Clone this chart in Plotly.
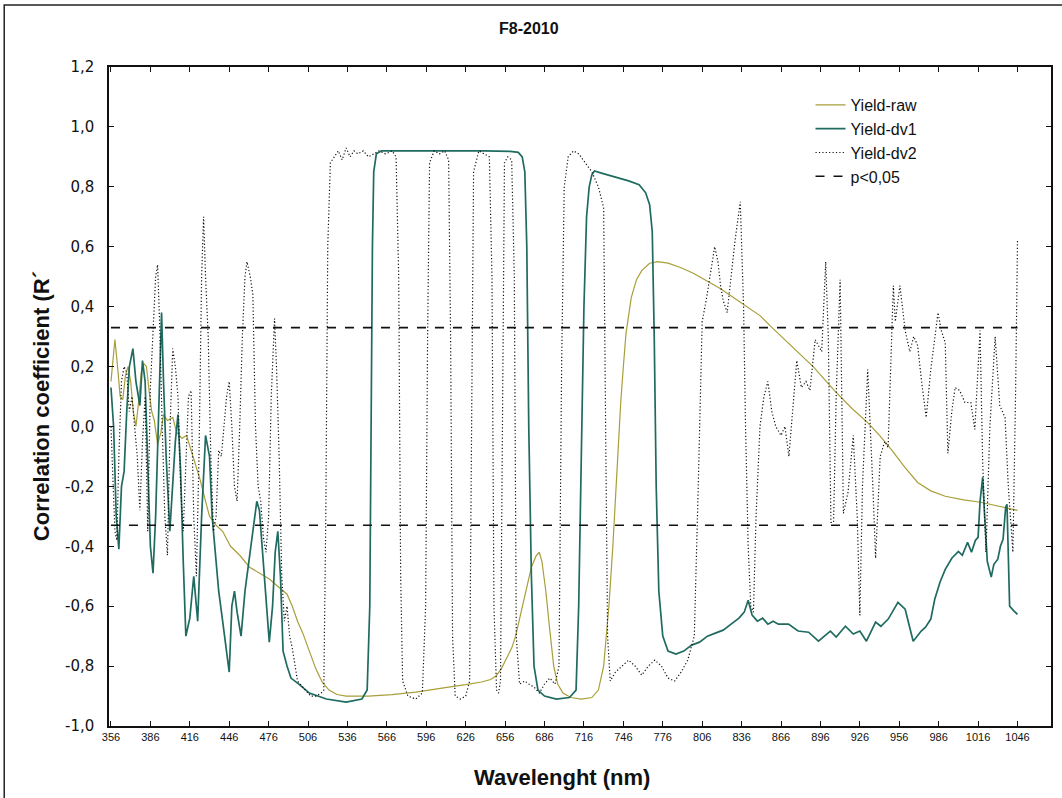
import plotly.graph_objects as go

# ---------------- data ----------------
x_ticks = [356, 386, 416, 446, 476, 506, 536, 566, 596, 626, 656, 686, 716, 746,
           776, 806, 836, 866, 896, 926, 956, 986, 1016, 1046]
x_tick_labels = ["356", "386", "416", "446", "476", "506", "536", "566", "596", "626",
                 "656", "686", "716", "746", "776", "806", "836", "866", "896", "926",
                 "956", "986", "1016", "1046"]
y_ticks = [-1.0, -0.8, -0.6, -0.4, -0.2, 0.0, 0.2, 0.4, 0.6, 0.8, 1.0, 1.2]
y_tick_labels = ["-1,0", "-0,8", "-0,6", "-0,4", "-0,2", "0,0", "0,2", "0,4", "0,6",
                 "0,8", "1,0", "1,2"]

wl_raw = [356, 357.5, 359, 361, 363, 365, 367, 369, 371, 373, 375, 377, 379, 381, 383, 385,
          387, 389, 391.5, 394, 396, 399, 403, 406, 410, 413.5, 417, 421, 424, 428, 431, 436,
          441, 447, 454, 461.5, 469, 476.8, 482, 487, 490, 494, 498, 502, 507, 512, 517, 522,
          528, 535, 552, 570, 588, 600, 613, 626, 638, 645, 649, 653, 657, 661, 664, 668, 672,
          676, 679.5, 682, 684, 687, 690, 693, 696, 700, 706, 714, 722, 727, 731, 735, 738,
          741, 744, 746, 748, 752, 756, 760, 766, 772, 780, 790, 800, 810, 820, 830, 840, 850,
          858, 864, 872, 880, 891, 906, 920, 932, 941, 950, 960, 970, 980, 991, 1005, 1018,
          1030, 1046]
r_raw = [0.15, 0.22, 0.29, 0.2, 0.1, 0.09, 0.17, 0.2, 0.15, 0.05, 0.0, 0.08, 0.18, 0.21, 0.2,
         0.12, 0.05, 0.02, -0.06, -0.02, 0.04, 0.02, 0.03, -0.02, -0.04, -0.03, -0.08, -0.14,
         -0.18, -0.25, -0.3, -0.33, -0.35, -0.4, -0.43, -0.47, -0.49, -0.51, -0.53, -0.55,
         -0.56, -0.6, -0.65, -0.69, -0.75, -0.81, -0.855, -0.88, -0.895, -0.9, -0.9, -0.895,
         -0.887, -0.88, -0.87, -0.862, -0.853, -0.845, -0.833, -0.81, -0.777, -0.74, -0.7,
         -0.62, -0.543, -0.47, -0.433, -0.42, -0.45, -0.55, -0.68, -0.8, -0.86, -0.89, -0.905,
         -0.91, -0.905, -0.88, -0.8, -0.6, -0.4, -0.15, 0.08, 0.2, 0.31, 0.43, 0.49, 0.52,
         0.545, 0.55, 0.545, 0.53, 0.51, 0.485, 0.46, 0.43, 0.4, 0.37, 0.335, 0.31, 0.275,
         0.24, 0.197, 0.123, 0.06, 0.013, -0.03, -0.077, -0.135, -0.187, -0.215, -0.233,
         -0.245, -0.253, -0.265, -0.28]

wl_dv1 = [356, 358, 360, 362, 364, 366, 368, 370, 372.7, 375, 378, 380, 382, 384, 386, 388,
          390, 392, 394.5, 396, 398, 400.8, 403, 405, 407, 409, 411, 413, 416, 419, 422, 425,
          428, 431, 433, 435, 438, 441, 444, 446, 448, 450, 452, 455, 458, 461, 464, 467, 469,
          471, 474, 476.5, 479, 481, 483, 485, 487, 490, 493, 499, 507, 520, 535, 547, 551,
          553, 554, 555, 556, 558, 562, 580, 600, 620, 640, 660, 666, 669, 671, 672.5, 674,
          676, 678, 681, 686, 695, 705, 710, 712, 714, 716, 718, 720, 722, 724, 730, 740, 750,
          758, 763, 766, 768, 769.5, 771, 773, 776, 780, 786, 792, 798, 804, 810, 816, 822,
          828, 834, 838, 841, 844, 848, 852, 856, 860, 864, 871.7, 879, 887, 894.5, 899,
          903.6, 908, 915, 921, 926, 931, 938, 942, 947.6, 955, 960.5, 966.6, 972.7, 976, 980,
          983, 987, 991, 996, 1001, 1004, 1008, 1011, 1014, 1016, 1017.5, 1019.5, 1021, 1023,
          1026, 1028, 1031, 1033, 1035, 1037, 1038, 1039, 1040, 1043, 1046]
r_dv1 = [0.13, 0.0, -0.3, -0.41, -0.2, -0.15, 0.05, 0.2, 0.26, 0.15, 0.07, 0.22, 0.15, -0.1,
         -0.4, -0.49, -0.3, 0.0, 0.38, 0.15, -0.1, -0.35, -0.2, -0.05, 0.04, -0.15, -0.45, -0.7,
         -0.64, -0.5, -0.65, -0.3, -0.03, -0.1, -0.3, -0.4, -0.55, -0.65, -0.75, -0.82, -0.6,
         -0.55, -0.62, -0.7, -0.55, -0.45, -0.35, -0.25, -0.28, -0.4, -0.6, -0.72, -0.6, -0.42,
         -0.35, -0.5, -0.75, -0.8, -0.84, -0.86, -0.89, -0.91, -0.92, -0.91, -0.88, -0.6, 0.0,
         0.6, 0.85, 0.91, 0.92, 0.92, 0.922, 0.92, 0.92, 0.918, 0.915, 0.9, 0.85, 0.6, 0.0,
         -0.5, -0.8, -0.88, -0.9, -0.91, -0.905, -0.88, -0.6, -0.1, 0.4, 0.7, 0.8, 0.84, 0.853,
         0.845, 0.833, 0.82, 0.807, 0.78, 0.74, 0.65, 0.3, -0.2, -0.55, -0.7, -0.75, -0.76,
         -0.75, -0.73, -0.72, -0.7, -0.69, -0.68, -0.66, -0.64, -0.62, -0.58, -0.63, -0.65,
         -0.64, -0.66, -0.65, -0.66, -0.66, -0.683, -0.687, -0.717, -0.7, -0.683, -0.703,
         -0.667, -0.693, -0.683, -0.717, -0.653, -0.667, -0.643, -0.587, -0.61, -0.717,
         -0.683, -0.67, -0.643, -0.577, -0.52, -0.477, -0.44, -0.417, -0.43, -0.387, -0.42,
         -0.38, -0.37, -0.25, -0.17, -0.3, -0.45, -0.503, -0.46, -0.443, -0.4, -0.377, -0.27,
         -0.26, -0.4, -0.6, -0.615, -0.627]

wl_dv2 = [356, 357.5, 359, 360.5, 362, 364, 366, 368, 370, 372, 374, 376, 378, 380, 382, 384,
          386, 388, 390, 391.5, 393, 395, 397, 399, 401, 403, 405, 407, 409, 411, 413, 415,
          417, 419, 421, 423, 425, 426.5, 428, 430, 432, 434, 436, 438, 440, 442, 444, 446,
          448, 450, 452, 454, 456, 458, 459.5, 462, 464, 466, 468, 470, 472, 474, 476, 478,
          480.5, 482, 484, 486, 488, 490, 492, 494, 496, 498, 500, 504, 508, 512, 516, 518,
          519.5, 521, 523, 526, 529, 532, 535, 538, 541, 544, 548, 552, 556, 560, 565, 570,
          573, 575, 576.5, 578, 582, 588, 593, 595.5, 597, 598.5, 602, 606, 610, 613, 614.5,
          616, 618, 622, 626, 629, 630.5, 632, 636, 640, 644, 646, 647.5, 649.5, 651, 652.5,
          654, 655.5, 658, 661, 663, 664.5, 667, 671, 674, 678, 682, 686, 690, 694, 697, 699,
          701, 704, 708, 712, 717, 722, 727, 731, 732.5, 734, 736, 740, 745, 750, 755, 760,
          765, 770, 775, 780, 785, 790, 795, 800, 803, 806, 809, 812, 815.5, 818, 820, 822,
          825, 828, 831, 835, 837.5, 839, 841, 843, 845, 847, 850, 853, 856, 859, 862, 866,
          869, 872, 875, 878, 881.5, 885, 888, 892, 897, 900, 902, 904, 906, 908, 911, 913.5,
          917, 921, 924, 926, 928, 932, 936, 938, 941.5, 945, 947.5, 951.5, 953, 956.5, 960.5,
          964, 967, 970, 973, 976.5, 980, 985.5, 988, 991, 993, 996, 998.5, 1002, 1006,
          1010.5, 1013.5, 1017.5, 1019.5, 1022, 1025, 1029, 1032.5, 1036.5, 1039, 1042.5,
          1044.5, 1046]
r_dv2 = [0.0, -0.2, -0.35, -0.38, -0.1, 0.15, 0.2, 0.18, 0.05, 0.1, 0.0, -0.1, -0.28, -0.05,
         0.1, -0.35, 0.13, 0.3, 0.5, 0.54, 0.35, 0.0, -0.3, -0.43, 0.0, 0.26, 0.2, 0.1, -0.2,
         -0.35, -0.1, 0.1, 0.12, -0.3, -0.5, -0.1, 0.5, 0.7, 0.5, 0.3, -0.1, -0.35, -0.3,
         -0.08, -0.1, 0.0, 0.1, 0.15, 0.0, -0.2, -0.25, 0.0, 0.3, 0.5, 0.55, 0.5, 0.44, 0.0,
         -0.2, -0.25, -0.37, -0.42, -0.3, 0.1, 0.36, 0.2, -0.1, -0.5, -0.65, -0.6, -0.7,
         -0.74, -0.8, -0.85, -0.86, -0.88, -0.9, -0.9, -0.89, -0.88, -0.3, 0.6, 0.88, 0.9,
         0.92, 0.89, 0.93, 0.9, 0.92, 0.91, 0.92, 0.9, 0.91, 0.92, 0.91, 0.92, 0.9, 0.5, -0.5,
         -0.85, -0.9, -0.91, -0.89, -0.6, 0.3, 0.88, 0.92, 0.91, 0.92, 0.89, 0.3, -0.7, -0.9,
         -0.91, -0.9, -0.85, 0.0, 0.85, 0.92, 0.91, 0.9, 0.5, -0.6, -0.88, -0.89, -0.85, 0.2,
         0.88, 0.9, 0.89, 0.5, -0.7, -0.86, -0.85, -0.86, -0.87, -0.89, -0.86, -0.84, -0.86,
         -0.8, 0.2, 0.8, 0.9, 0.92, 0.91, 0.88, 0.85, 0.8, 0.73, 0.0, -0.7, -0.85, -0.82,
         -0.8, -0.78, -0.8, -0.83, -0.8, -0.78, -0.8, -0.84, -0.85, -0.82, -0.78, -0.7, -0.2,
         0.35, 0.42, 0.5, 0.6, 0.55, 0.47, 0.42, 0.38, 0.5, 0.62, 0.75, 0.4, 0.0, -0.4, -0.6,
         -0.62, -0.3, 0.0, 0.1, 0.15, 0.05, 0.0, -0.03, 0.0, -0.1, 0.05, 0.22, 0.13, 0.15,
         0.12, 0.29, 0.25, 0.55, 0.3, -0.32, -0.32, 0.1, 0.49, -0.29, -0.22, -0.03, -0.3,
         -0.63, -0.2, 0.19, -0.21, -0.44, -0.1, -0.05, -0.07, 0.47, 0.35, 0.47, 0.32, 0.25,
         0.3, 0.27, 0.15, 0.03, 0.19, 0.38, 0.32, 0.28, -0.09, 0.05, 0.13, 0.12, 0.08, 0.08,
         -0.01, 0.32, -0.12, -0.42, 0.0, 0.3, 0.07, 0.03, -0.2, -0.42, 0.1, 0.62]

p_level = 0.33
p_span = [356, 1046]

# ---------------- figure ----------------
fig = go.Figure()
fig.add_trace(go.Scatter(x=wl_raw, y=r_raw, mode="lines", name="Yield-raw",
                         line=dict(color="#a89f3a", width=1.2)))
fig.add_trace(go.Scatter(x=wl_dv1, y=r_dv1, mode="lines", name="Yield-dv1",
                         line=dict(color="#1f6b60", width=1.7)))
fig.add_trace(go.Scatter(x=wl_dv2, y=r_dv2, mode="lines", name="Yield-dv2",
                         line=dict(color="#111111", width=1.2, dash="1.2px,2.2px")))
fig.add_trace(go.Scatter(x=[p_span[0], p_span[1], None, p_span[0], p_span[1]],
                         y=[p_level, p_level, None, -p_level, -p_level],
                         mode="lines", name="p<0,05",
                         line=dict(color="#111111", width=1.6, dash="dash")))

W, H = 1062, 798
L, R, T, B = 109, 9, 67, 72
pw, ph = W - L - R, H - T - B

def px(xp):
    return (xp - L) / pw

def py(yp):
    return (H - B - yp) / ph

fig.update_layout(
    width=W, height=H,
    margin=dict(l=L, r=R, t=T, b=B),
    paper_bgcolor="white", plot_bgcolor="white",
    font=dict(family="Liberation Sans, Arial, sans-serif", color="#111111"),
    showlegend=True,
    legend=dict(x=px(812), y=py(88), xanchor="left", yanchor="top",
                bgcolor="rgba(0,0,0,0)", font=dict(size=16, family="Liberation Sans, Arial"),
                tracegroupgap=0, itemwidth=30),
    xaxis=dict(range=[354.5, 1071.5], tickmode="array", tickvals=x_ticks,
               ticktext=x_tick_labels, ticks="inside", ticklen=5, tickwidth=1.2,
               tickcolor="#111111", showline=True, linecolor="#111111", linewidth=1.5,
               mirror="ticks", showgrid=False, zeroline=False,
               tickfont=dict(size=11, family="Liberation Sans Narrow, Arial Narrow, Liberation Sans")),
    yaxis=dict(range=[-1.0, 1.2], tickmode="array", tickvals=y_ticks,
               ticktext=y_tick_labels, ticks="inside", ticklen=5, tickwidth=1.2,
               tickcolor="#111111", showline=True, linecolor="#111111", linewidth=1.5,
               mirror="ticks", showgrid=False, zeroline=False, ticklabelstandoff=10,
               tickfont=dict(size=15, family="DejaVu Sans, Verdana")),
    annotations=[
        dict(text="<b>F8-2010</b>", xref="paper", yref="paper", x=px(530), y=py(28),
             showarrow=False, xanchor="center", yanchor="middle",
             font=dict(size=16, family="Liberation Sans Narrow, Arial Narrow, Liberation Sans")),
        dict(text="<b>Wavelenght (nm)</b>", xref="paper", yref="paper", x=px(563), y=py(778),
             showarrow=False, xanchor="center", yanchor="middle",
             font=dict(size=22, family="Liberation Sans Narrow, Arial Narrow, Liberation Sans")),
        dict(text="<b>Correlation coefficient (R\u00b4</b>", xref="paper", yref="paper",
             x=px(41), y=py(406), textangle=-90, showarrow=False,
             xanchor="center", yanchor="middle",
             font=dict(size=22, family="Liberation Sans Narrow, Arial Narrow, Liberation Sans")),
    ],
    shapes=[
        dict(type="rect", xref="paper", yref="paper", x0=px(4), x1=px(1070),
             y0=py(805), y1=py(5), line=dict(color="#222222", width=1.5),
             fillcolor="rgba(0,0,0,0)", layer="below"),
    ],
)

fig.write_html("out.html")
